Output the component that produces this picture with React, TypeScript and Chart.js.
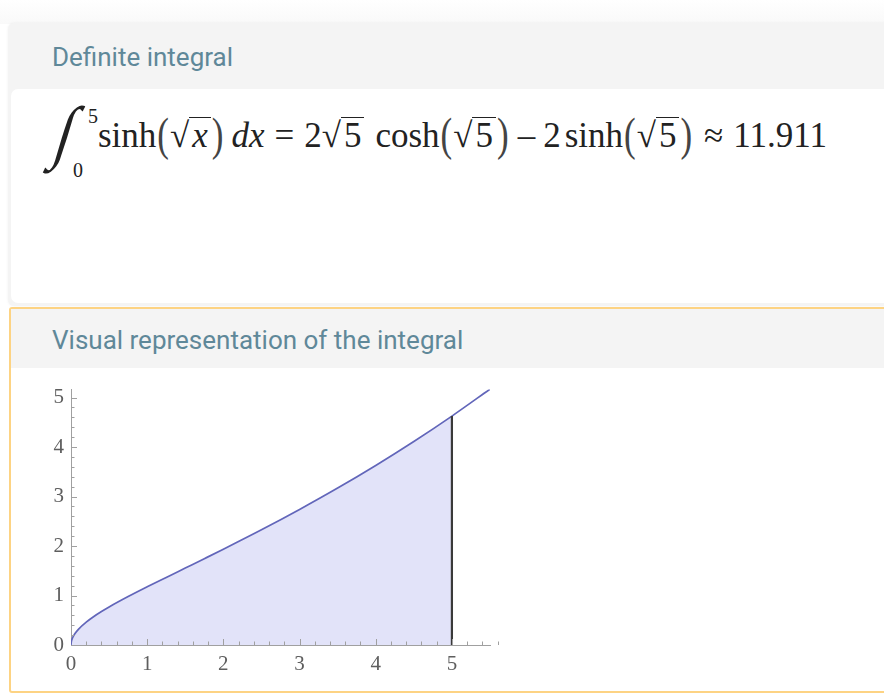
import React, { useEffect, useRef } from "react";
import { Chart, registerables } from "chart.js";

Chart.register(...registerables);

// Values: y = sinh(sqrt(x))
const curveX = [0, 0.005, 0.02, 0.05, 0.1, 0.2, 0.3, 0.4, 0.5, 0.75, 1, 1.25, 1.5, 1.75, 2, 2.5, 3, 3.5, 4, 4.5, 5, 5.5];
const curveY = [0, 0.071, 0.142, 0.226, 0.322, 0.462, 0.576, 0.676, 0.768, 0.978, 1.175, 1.366, 1.555, 1.744, 1.935, 2.327, 2.738, 3.17, 3.627, 4.111, 4.625, 5.17];
const lowerBound = 0;
const upperBound = 5;
const upperBoundValue = 4.625;
const xAxisRange = [0, 5.5];
const yAxisRange = [0, 5.16];
const xTickLabels = ["0", "1", "2", "3", "4", "5"];
const yTickLabels = ["0", "1", "2", "3", "4", "5"];
const minorStep = 0.2;

const headerColor = "#5f8899";
const tickFont = { family: "'Liberation Serif', serif", size: 21 };

function ChartBox() {
  const ref = useRef<HTMLCanvasElement | null>(null);
  useEffect(() => {
    if (!ref.current) return;
    const all = curveX.map((x, i) => ({ x, y: curveY[i] }));
    const area = all.filter((p) => p.x >= lowerBound && p.x <= upperBound);
    const minorTicks = {
      id: "minorTicks",
      afterDraw(chart: any) {
        const ctx = chart.ctx;
        const xs = chart.scales.x;
        const ys = chart.scales.y;
        ctx.save();
        ctx.strokeStyle = "#a0a0a0";
        ctx.lineWidth = 1;
        const nx = Math.round((xAxisRange[1] - xAxisRange[0]) / minorStep);
        for (let i = 1; i <= nx; i++) {
          const v = xAxisRange[0] + i * minorStep;
          const major = i % 5 === 0;
          const px = Math.round(xs.getPixelForValue(v)) + 0.5;
          ctx.beginPath();
          ctx.moveTo(px, ys.bottom);
          ctx.lineTo(px, ys.bottom - (major ? 6 : 3.5));
          ctx.stroke();
        }
        const ny = Math.floor((yAxisRange[1] - yAxisRange[0]) / minorStep + 1e-6);
        for (let i = 1; i <= ny; i++) {
          const v = yAxisRange[0] + i * minorStep;
          const major = i % 5 === 0;
          const py = Math.round(ys.getPixelForValue(v)) + 0.5;
          ctx.beginPath();
          ctx.moveTo(xs.left, py);
          ctx.lineTo(xs.left + (major ? 6 : 3.5), py);
          ctx.stroke();
        }
        ctx.restore();
      },
    };
    const chart = new Chart(ref.current, {
      type: "scatter",
      data: {
        datasets: [
          {
            data: [
              { x: upperBound, y: 0 },
              { x: upperBound, y: upperBoundValue },
            ],
            showLine: true,
            borderColor: "#3a3a3a",
            borderWidth: 2.2,
            pointRadius: 0,
            fill: false,
          },
          {
            data: all,
            showLine: true,
            borderColor: "#6266ba",
            borderWidth: 1.7,
            pointRadius: 0,
            fill: false,
            cubicInterpolationMode: "monotone",
          },
          {
            data: area,
            showLine: true,
            borderWidth: 0,
            borderColor: "rgba(0,0,0,0)",
            backgroundColor: "#e2e3f9",
            pointRadius: 0,
            fill: "origin",
            cubicInterpolationMode: "monotone",
          },
        ],
      } as any,
      options: {
        animation: false,
        responsive: false,
        events: [],
        layout: { padding: { left: 0, top: 15, right: 30, bottom: 0 } },
        plugins: { legend: { display: false }, tooltip: { enabled: false } },
        scales: {
          x: {
            type: "linear",
            min: xAxisRange[0],
            max: xAxisRange[1],
            afterFit: (s: any) => {
              s.height = 45;
            },
            ticks: {
              stepSize: 1,
              includeBounds: false,
              autoSkip: false,
              maxRotation: 0,
              padding: 7,
              color: "#5e5e5e",
              font: tickFont,
              callback: (v: any) => {
                const i = xTickLabels.indexOf(String(v));
                return i >= 0 ? xTickLabels[i] : "";
              },
            },
            grid: { drawOnChartArea: false, drawTicks: false },
            border: { color: "#a0a0a0", width: 1 },
          },
          y: {
            type: "linear",
            min: yAxisRange[0],
            max: yAxisRange[1],
            afterFit: (s: any) => {
              s.width = 71;
            },
            ticks: {
              stepSize: 1,
              includeBounds: false,
              autoSkip: false,
              padding: 7,
              color: "#5e5e5e",
              font: tickFont,
              callback: (v: any) => {
                const i = yTickLabels.indexOf(String(v));
                return i >= 0 ? yTickLabels[i] : "";
              },
            },
            grid: { drawOnChartArea: false, drawTicks: false },
            border: { color: "#a0a0a0", width: 1 },
          },
        },
      },
      plugins: [minorTicks],
    } as any);
    return () => chart.destroy();
  }, []);
  return (
    <canvas
      ref={ref}
      width={520}
      height={320}
      style={{ position: "absolute", left: 0, top: 370, width: 520, height: 320, display: "block" }}
    />
  );
}

function Sqrt({ children }: { children: React.ReactNode }) {
  return (
    <span style={{ whiteSpace: "nowrap" }}>
      <span>√</span>
      <span style={{ borderTop: "1.5px solid #222", display: "inline-block", lineHeight: "1.05", padding: "0 3px" }}>{children}</span>
    </span>
  );
}

function Paren({ c }: { c: string }) {
  return (
    <span style={{ display: "inline-block", transform: "scaleY(1.3)", color: "#444", margin: "0 1px" }}>{c}</span>
  );
}

const gap = (w: number) => <span style={{ display: "inline-block", width: w }} />;

export default function App() {
  return (
    <div
      style={{
        position: "fixed",
        left: 0,
        top: 0,
        width: 884,
        height: 698,
        background: "#ffffff",
        overflow: "hidden",
        fontFamily: "Roboto, sans-serif",
      }}
    >
      <div style={{ position: "absolute", left: 0, top: 0, width: 884, height: 24, background: "linear-gradient(#ffffff, #f9f9f9)" }} />
      {/* Card 1 */}
      <div
        style={{
          position: "absolute",
          left: 8,
          top: 23,
          width: 890,
          height: 283,
          background: "#f4f4f4",
          borderRadius: 6,
          boxShadow: "0 0 3px rgba(0,0,0,0.06)",
        }}
      >
        <div style={{ position: "absolute", left: 44, top: 19, fontSize: 26, color: headerColor }}>
          Definite integral
        </div>
        <div
          style={{
            position: "absolute",
            left: 3,
            top: 66,
            width: 890,
            height: 214,
            background: "#ffffff",
            borderRadius: 7,
          }}
        />
      </div>
      {/* Formula */}
      <div style={{ position: "absolute", left: 48, top: 104, fontFamily: "'Liberation Serif', serif", color: "#222" }}>
        <span
          style={{
            position: "absolute",
            left: 10,
            top: -4,
            fontSize: 62,
            lineHeight: "1",
            fontFamily: "'Liberation Serif', serif",
            transform: "skewX(-17deg) scale(0.95, 1.12)",
            transformOrigin: "center center",
          }}
        >
          ∫
        </span>
        <span style={{ position: "absolute", left: 40, top: 1, fontSize: 20 }}>5</span>
        <span style={{ position: "absolute", left: 25, top: 55, fontSize: 20 }}>0</span>
        <div
          style={{
            position: "absolute",
            left: 50,
            top: 12,
            fontSize: 35,
            whiteSpace: "nowrap",
          }}
        >
          sinh<Paren c="(" /><Sqrt><i>x</i></Sqrt><Paren c=")" />
          {gap(7)}<i>d</i><i>x</i>{gap(10)}={gap(10)}2<Sqrt>5</Sqrt>{gap(11)}cosh<Paren c="(" /><Sqrt>5</Sqrt><Paren c=")" />{gap(8)}–{gap(8)}2{gap(4)}sinh<Paren c="(" /><Sqrt>5</Sqrt><Paren c=")" />{gap(11)}≈{gap(10)}11.911
        </div>
      </div>
      {/* Card 2 */}
      <div
        style={{
          position: "absolute",
          left: 9,
          top: 307,
          width: 890,
          height: 382,
          background: "#ffffff",
          border: "2px solid #fdd383",
          borderRadius: 3,
        }}
      >
        <div style={{ position: "absolute", left: 0, top: 0, width: "100%", height: 59, background: "#f4f4f4" }} />
        <div style={{ position: "absolute", left: 41, top: 16, fontSize: 26, color: headerColor }}>
          Visual representation of the integral
        </div>
      </div>
      <ChartBox />
    </div>
  );
}
